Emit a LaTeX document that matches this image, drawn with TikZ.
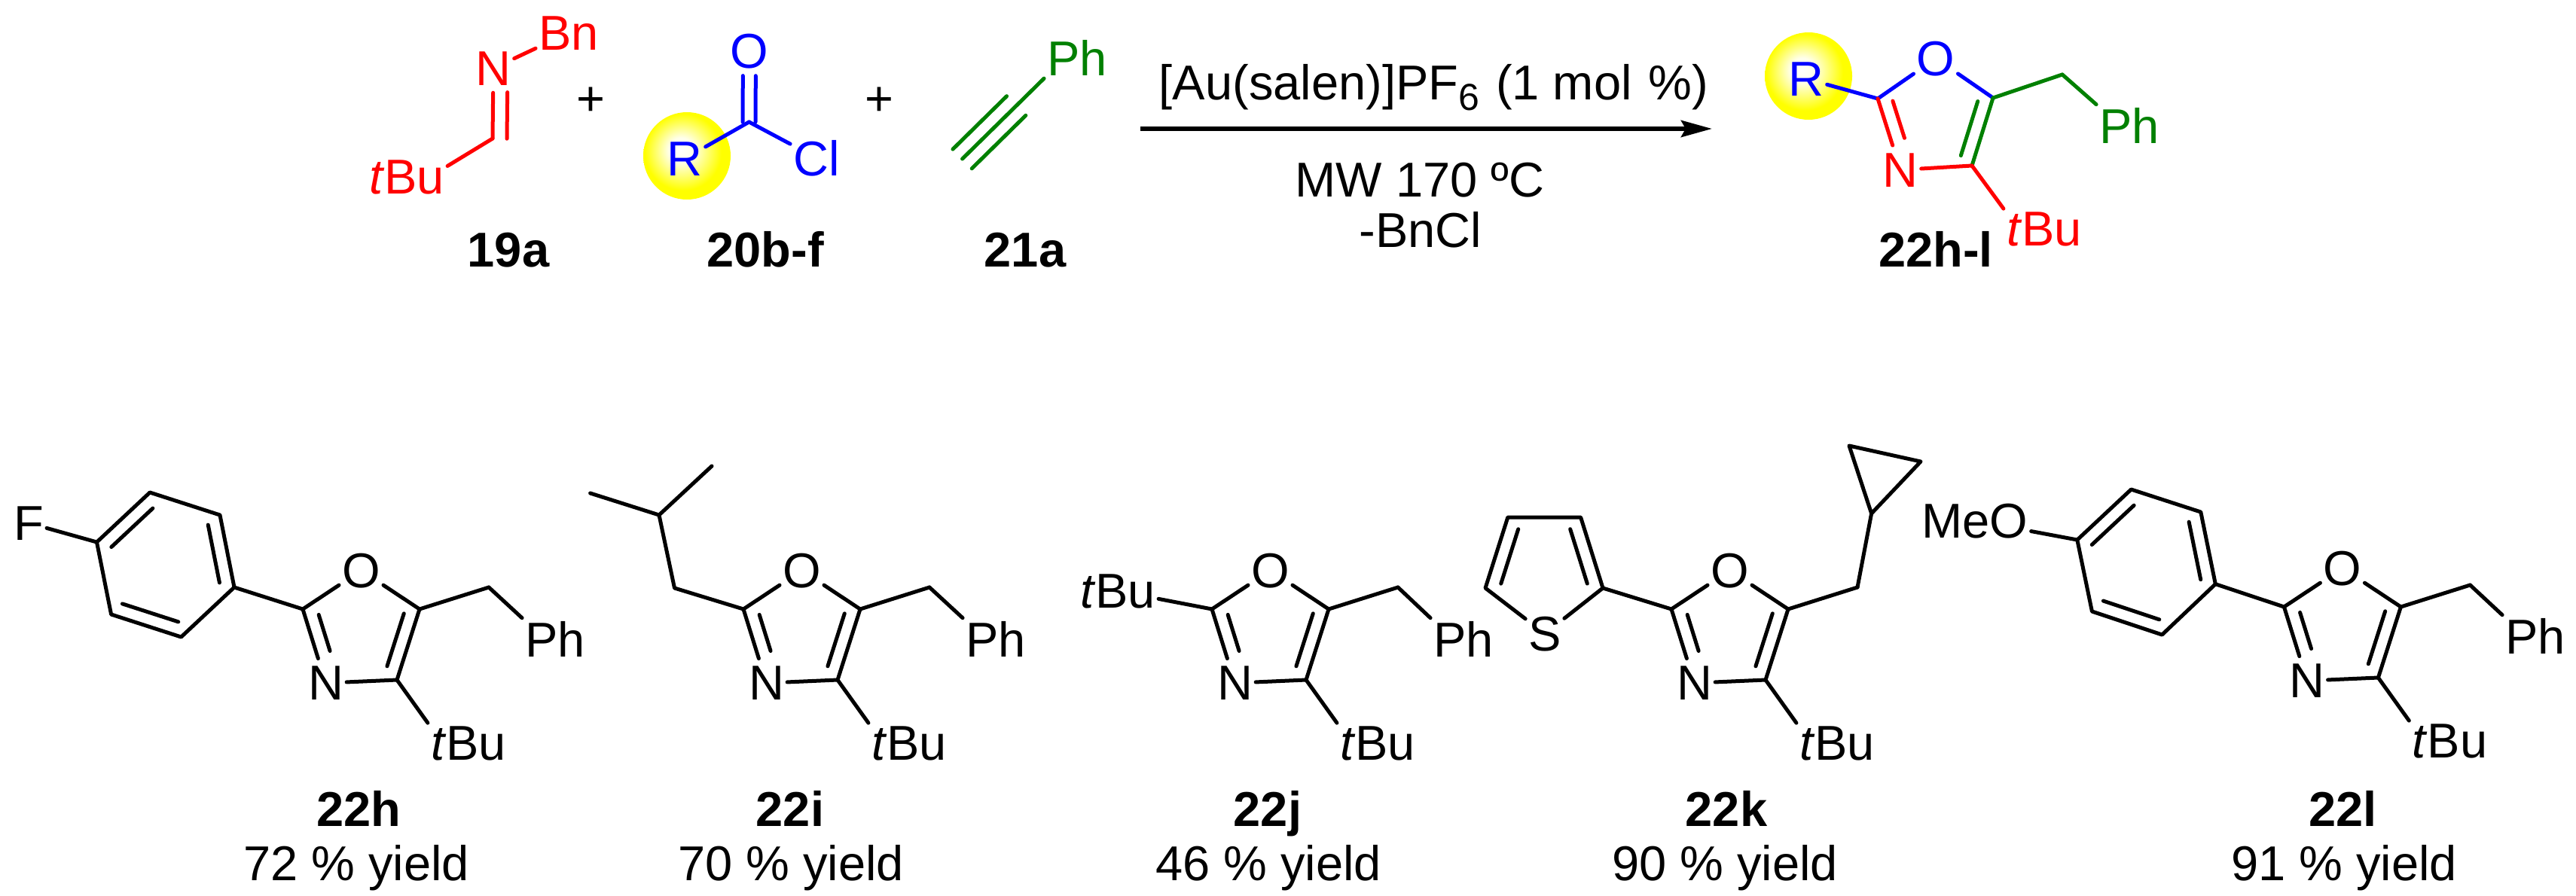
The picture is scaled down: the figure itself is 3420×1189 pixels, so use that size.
\documentclass[tikz,border=0pt]{standalone}
\usepackage{fontspec}
\setmainfont{Liberation Sans}
\usetikzlibrary{calc,arrows.meta}
\definecolor{chemgreen}{RGB}{0,128,0}
\pgfdeclareradialshading{yellowspot}{\pgfpoint{-4bp}{4bp}}{color(0bp)=(white); color(7bp)=(white!92!yellow); color(22bp)=(yellow); color(50bp)=(yellow)}
\tikzset{
	every node/.style = {font=\fontsize{65}{78}\selectfont},
	bond/.style = {line width=5pt, line cap=round, line join=round},
	atom/.style = {anchor=base, inner xsep=4pt, inner ysep=10pt},
	group/.style = {anchor=base, inner sep=4pt},
	cmpd/.style = {anchor=base, font=\fontsize{65}{78}\selectfont\bfseries},
	note/.style = {anchor=base},
	spot/.style = {circle, inner sep=0pt, minimum size=116pt, shade, shading=yellowspot},
}
\newcommand{\innerbond}[6][bond]{\draw[#1] ($(#2)!#4!(#3)!#6!90:(#3)$) -- ($(#2)!#5!(#3)!#6!90:(#3)$);}
\newcommand{\oxazole}[3]{
	\begin{scope}[shift={(#2,#3)}]
	\coordinate (#1C2) at (0, 0);
	\coordinate (#1C5) at (155, 0);
	\coordinate (#1C4) at (125, 94);
	\coordinate (#1CH2) at (247, -29);
	\node (#1O) at (77.5, -29) [atom] {O};
	\node (#1N) at (30.5, 120.5) [atom] {N};
	\node (#1Bu) at (220, 200) [group] {\textit{t}Bu};
	\draw[bond] (#1C2) -- (#1O);
	\draw[bond] (#1O) -- (#1C5);
	\draw[bond] (#1C2) -- (#1N);
	\innerbond{#1C2}{#1N}{.13}{.62}{18pt}
	\draw[bond] (#1C5) -- (#1C4);
	\innerbond{#1C5}{#1C4}{.12}{.865}{-18pt}
	\draw[bond] (#1N) -- (#1C4);
	\draw[bond] (#1C4) -- (#1Bu.north west);
	\draw[bond] (#1C5) -- (#1CH2);
	\end{scope}
}
\begin{document}
\begin{tikzpicture}[x=1pt,y=-1pt]
	\useasboundingbox (0, 0) rectangle (3420, 1189);

	\coordinate (aC) at (654, 184);
	\node (aN) at (655, 113) [atom, red] {N};
	\node (aBn) at (755, 66) [group, red] {Bn};
	\node (atBu) at (540, 257) [group, red] {\textit{t}Bu};
	\draw[bond, red] (aN) -- (aBn);
	\draw[bond, red] (aC) -- (aN);
	\innerbond[bond, red]{aC}{aN}{0}{.66}{-19pt}
	\draw[bond, red] (aC) -- (atBu.15);
	\node (plusA) at (784, 153) [note] {+};
	\node (plusB) at (1167, 153) [note] {+};

	\node (bSpot) at (912, 207) [spot] {};
	\coordinate (bC) at (994.5, 162);
	\node (bO) at (995, 90) [atom, blue] {O};
	\node (bR) at (909, 233) [group, blue] {R};
	\node (bCl) at (1084, 233) [group, blue] {Cl};
	\innerbond[bond, blue]{bC}{bO}{0}{.65}{8.5pt}
	\innerbond[bond, blue]{bC}{bO}{0}{.65}{-8.5pt}
	\draw[bond, blue] (bC) -- (bR);
	\draw[bond, blue] (bC) -- (bCl);

	\coordinate (cC) at (1277.6, 211);
	\node (cPh) at (1430, 100) [group, chemgreen] {Ph};
	\draw[bond, chemgreen] (cC) -- (cPh.south west);
	\innerbond[bond, chemgreen]{cC}{cPh.south west}{0}{.66}{18pt}
	\innerbond[bond, chemgreen]{cC}{cPh.south west}{0}{.66}{-18pt}

	\node (l19a) at (675, 354) [cmpd] {19a};
	\node (l20) at (1016, 354) [cmpd] {20b-f};
	\node (l21a) at (1361, 354) [cmpd] {21a};

	\coordinate (arrowA) at (1514, 171);
	\coordinate (arrowB) at (2273, 171);
	\draw[line width=6pt, -{Stealth[length=41pt, width=22pt, inset=6pt]}] (arrowA) -- (arrowB);
	\node (cat) at (1903.5, 132) [note] {[Au(salen)]PF\raisebox{-14pt}{\fontsize{50}{50}\selectfont 6}\hspace{4pt} (1 mol\hspace{4pt} \%)};
	\node (cond) at (1885, 261) [note] {MW 170 ºC};
	\node (loss) at (1886, 328) [note] {-BnCl};

	\node (pSpot) at (2401, 101) [spot] {};
	\coordinate (pC2) at (2493, 131);
	\coordinate (pC5) at (2646, 130);
	\coordinate (pC4) at (2618, 220);
	\coordinate (pCH2) at (2738, 99);
	\node (pR) at (2398, 127) [group, blue] {R};
	\node (pO) at (2570, 100) [atom, blue] {O};
	\node (pN) at (2523, 248) [atom, red] {N};
	\node (pPh) at (2827, 190) [group, chemgreen] {Ph};
	\node (ptBu) at (2714, 326) [group, red] {\textit{t}Bu};
	\draw[bond, blue] (pR) -- (pC2);
	\draw[bond, blue] (pC2) -- (pO);
	\draw[bond, blue] (pO) -- (pC5);
	\draw[bond, chemgreen] (pC5) -- (pCH2);
	\draw[bond, chemgreen] (pCH2) -- (pPh.north west);
	\draw[bond, red] (pC2) -- (pN);
	\innerbond[bond, red]{pC2}{pN}{.09}{.61}{18pt}
	\draw[bond, chemgreen] (pC5) -- (pC4);
	\innerbond[bond, chemgreen]{pC5}{pC4}{.11}{.91}{-18pt}
	\draw[bond, red] (pN) -- (pC4);
	\draw[bond, red] (pC4) -- (ptBu.north west);
	\node (l22) at (2570, 354) [cmpd] {22h-l};

	\oxazole{h}{402}{809}
	\node (hF) at (38, 717) [group] {F};
	\node (hPh) at (737, 872) [group] {Ph};
	\coordinate (hA1) at (128.5, 720);
	\coordinate (hA2) at (199, 654);
	\coordinate (hA3) at (292, 684);
	\coordinate (hA4) at (311, 780);
	\coordinate (hA5) at (240.5, 846);
	\coordinate (hA6) at (147.6, 816);
	\draw[bond] (hF) -- (hA1);
	\draw[bond] (hA1) -- (hA2) -- (hA3) -- (hA4) -- (hA5) -- (hA6) -- cycle;
	\innerbond{hA1}{hA2}{.1}{.88}{-18pt}
	\innerbond{hA3}{hA4}{.1}{.9}{-18pt}
	\innerbond{hA5}{hA6}{.1}{.9}{-18pt}
	\draw[bond] (hA4) -- (hC2);
	\draw[bond] (hCH2) -- (hPh.north west);
	\node (l22h) at (476, 1097) [cmpd] {22h};
	\node (yh) at (473, 1169) [note] {72 \% yield};

	\oxazole{i}{987}{809}
	\node (iPh) at (1322, 872) [group] {Ph};
	\coordinate (iCH2b) at (895.5, 781);
	\coordinate (iCH) at (875, 684);
	\coordinate (iMeA) at (945, 619);
	\coordinate (iMeB) at (783.6, 655);
	\draw[bond] (iC2) -- (iCH2b) -- (iCH) -- (iMeA);
	\draw[bond] (iCH) -- (iMeB);
	\draw[bond] (iCH2) -- (iPh.north west);
	\node (l22i) at (1049, 1097) [cmpd] {22i};
	\node (yi) at (1050, 1169) [note] {70 \% yield};

	\oxazole{j}{1609}{809}
	\node (jtBu) at (1484, 807) [group] {\textit{t}Bu};
	\node (jPh) at (1943, 872) [group] {Ph};
	\draw[bond] (jC2) -- (jtBu);
	\draw[bond] (jCH2) -- (jPh.north west);
	\node (l22j) at (1683, 1097) [cmpd] {22j};
	\node (yj) at (1684, 1169) [note] {46 \% yield};

	\oxazole{k}{2219}{809}
	\coordinate (kT2) at (2128, 781);
	\coordinate (kT3) at (2098.6, 687);
	\coordinate (kT4) at (2001.8, 687);
	\coordinate (kT5) at (1972, 781);
	\node (kS) at (2051, 864) [atom] {S};
	\draw[bond] (kS) -- (kT2) -- (kT3) -- (kT4) -- (kT5) -- (kS);
	\innerbond{kT3}{kT2}{.11}{.88}{-18pt}
	\innerbond{kT4}{kT5}{.11}{.88}{18pt}
	\draw[bond] (kT2) -- (kC2);
	\coordinate (kCp1) at (2484.6, 682);
	\coordinate (kCp2) at (2455, 592);
	\coordinate (kCp3) at (2550, 613);
	\draw[bond] (kCH2) -- (kCp1);
	\draw[bond] (kCp1) -- (kCp2) -- (kCp3) -- cycle;
	\node (l22k) at (2292, 1097) [cmpd] {22k};
	\node (yk) at (2290, 1169) [note] {90 \% yield};

	\oxazole{l}{3032.4}{806}
	\node (lOMe) at (2622, 714) [group] {MeO};
	\node (lPh) at (3366, 868) [group] {Ph};
	\coordinate (lA1) at (2757.8, 717);
	\coordinate (lA2) at (2829.4, 650);
	\coordinate (lA3) at (2921.8, 680);
	\coordinate (lA4) at (2941.3, 775.7);
	\coordinate (lA5) at (2870.4, 843);
	\coordinate (lA6) at (2777.4, 812);
	\draw[bond] (lOMe) -- (lA1);
	\draw[bond] (lA1) -- (lA2) -- (lA3) -- (lA4) -- (lA5) -- (lA6) -- cycle;
	\innerbond{lA1}{lA2}{.1}{.88}{-18pt}
	\innerbond{lA3}{lA4}{.1}{.9}{-18pt}
	\innerbond{lA5}{lA6}{.1}{.9}{-18pt}
	\draw[bond] (lA4) -- (lC2);
	\draw[bond] (lCH2) -- (lPh.north west);
	\node (l22l) at (3110.6, 1097) [cmpd] {22l};
	\node (yl) at (3112, 1169) [note] {91 \% yield};
\end{tikzpicture}
\end{document}
